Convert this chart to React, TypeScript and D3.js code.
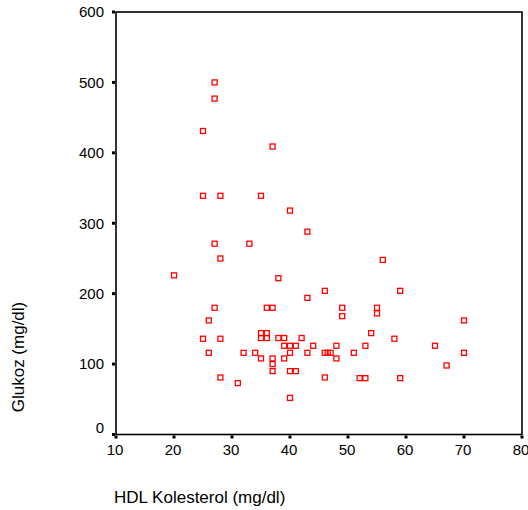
import React from "react";
import * as d3 from "d3";

const hdl: number[] = [
  27, 27, 25, 37, 25, 28, 35, 40, 43, 27, 33, 28, 56, 20, 38, 46, 59, 43, 27, 36,
  37, 49, 55, 49, 55, 26, 70, 54, 35, 36, 35, 36, 25, 28, 38, 39, 42, 58, 39, 40,
  41, 44, 48, 53, 65, 26, 32, 34, 40, 43, 46, 47, 51, 70, 35, 37, 39, 48, 37, 67,
  37, 40, 41, 28, 46, 52, 53, 59, 31, 40, 46.5,
];
const glukoz: number[] = [
  500, 477, 431, 409, 339, 339, 339, 318, 288, 271, 271, 250, 248, 226, 222, 204, 204, 194, 180, 180,
  180, 180, 180, 168, 172, 162, 162, 144, 144, 144, 137, 137, 136, 136, 137, 137, 137, 136, 126, 126,
  126, 126, 126, 126, 126, 116, 116, 116, 116, 116, 116, 116, 116, 116, 108, 108, 108, 108, 100, 98,
  90, 90, 90, 81, 81, 80, 80, 80, 73, 52, 116,
];
const xTicks: number[] = [10, 20, 30, 40, 50, 60, 70, 80];
const yTicks: number[] = [0, 100, 200, 300, 400, 500, 600];
const xTitle = "HDL Kolesterol (mg/dl)";
const yTitle = "Glukoz (mg/dl)";

const W = 528;
const H = 510;
const left = 116;
const right = 522;
const top = 12;
const bottom = 434.5;
const font = "'Liberation Sans', Arial, sans-serif";

export default function App() {
  const x = d3.scaleLinear().domain([10, 80]).range([left, right]);
  const y = d3.scaleLinear().domain([0, 600]).range([bottom, top]);
  const m = 5;
  return (
    <svg
      width={W}
      height={H}
      style={{ position: "absolute", left: 0, top: 0, background: "#fff" }}
      fontFamily={font}
    >
      <rect x={0} y={0} width={W} height={H} fill="#fff" />
      <rect
        x={left}
        y={top}
        width={right - left}
        height={bottom - top}
        fill="none"
        stroke="#000"
        strokeWidth={1.6}
      />
      {yTicks.map((t) => (
        <g key={"y" + t}>
          <rect x={left - 4} y={y(t) - 1.5} width={3} height={3} fill="#000" />
          <text
            x={104}
            y={y(t) + (t === 0 ? -7 : 0)}
            dy="0.36em"
            textAnchor="end"
            fontSize={15}
            fill="#000"
          >
            {t}
          </text>
        </g>
      ))}
      {xTicks.map((t) => (
        <g key={"x" + t}>
          <rect x={x(t) - 1.5} y={bottom + 1} width={3} height={3} fill="#000" />
          <text x={x(t) - 1} y={455} textAnchor="middle" fontSize={15} fill="#000">
            {t}
          </text>
        </g>
      ))}
      {hdl.map((v, i) => (
        <rect
          key={"p" + i}
          x={x(v) - m / 2}
          y={y(glukoz[i]) - m / 2}
          width={m}
          height={m}
          fill="none"
          stroke="#ff0000"
          strokeWidth={1.3}
        />
      ))}
      <text x={114} y={503} fontSize={17} fill="#000">
        {xTitle}
      </text>
      <text
        transform="translate(24,357) rotate(-90)"
        textAnchor="middle"
        fontSize={17}
        fill="#000"
      >
        {yTitle}
      </text>
    </svg>
  );
}
